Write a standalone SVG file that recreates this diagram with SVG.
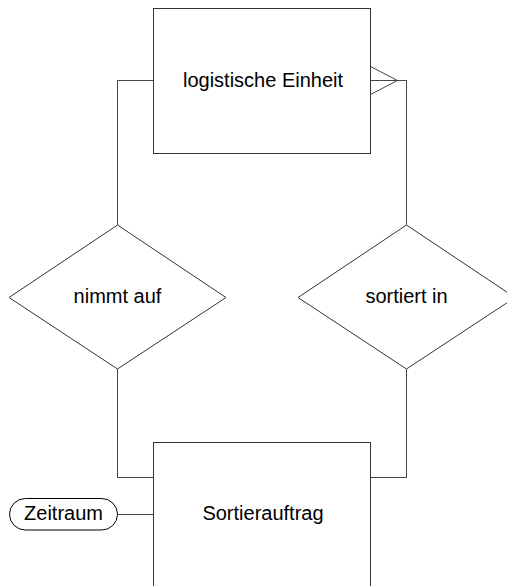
<svg xmlns="http://www.w3.org/2000/svg" width="507" height="586" viewBox="0 0 507 586">
<style>
.shape{fill:#fff;stroke:#333;stroke-width:1}
.line{fill:none;stroke:#444;stroke-width:1}
.t{font-family:"Liberation Sans",Arial,sans-serif;font-size:20px;fill:#000;text-anchor:middle}
</style>
<rect width="507" height="586" fill="#fff"/>
<g id="connectors">
<polyline class="line" points="153.5,80.5 117.5,80.5 117.5,225"/>
<polyline class="line" points="370.5,80.5 406.5,80.5 406.5,225"/>
<polyline class="line" points="370.5,66.5 397.5,80.5 370.5,94.5"/>
<polyline class="line" points="117.5,369 117.5,477.5 153.5,477.5"/>
<polyline class="line" points="370.5,477.5 406.5,477.5 406.5,369"/>
<line class="line" x1="117" y1="514.5" x2="153.5" y2="514.5"/>
</g>
<g id="logistische-einheit">
<rect class="shape" x="153.5" y="8.5" width="217" height="145"/>
<text class="t" x="263" y="87">logistische Einheit</text>
</g>
<g id="nimmt-auf">
<polygon class="shape" points="117.5,225 226,297.5 117.5,369 9,297.5"/>
<text class="t" x="117.5" y="303">nimmt auf</text>
</g>
<g id="sortiert-in">
<polygon class="shape" points="406.5,225 515,297.5 406.5,369 298,297.5"/>
<text class="t" x="406.5" y="303">sortiert in</text>
</g>
<g id="sortierauftrag">
<rect class="shape" x="153.5" y="442.5" width="217" height="160"/>
<text class="t" x="263" y="520">Sortierauftrag</text>
</g>
<g id="zeitraum">
<rect x="9.5" y="498.5" width="108" height="31.5" rx="15.75" fill="#fff" stroke="#000" stroke-width="1"/>
<text class="t" x="63.5" y="520">Zeitraum</text>
</g>
</svg>
